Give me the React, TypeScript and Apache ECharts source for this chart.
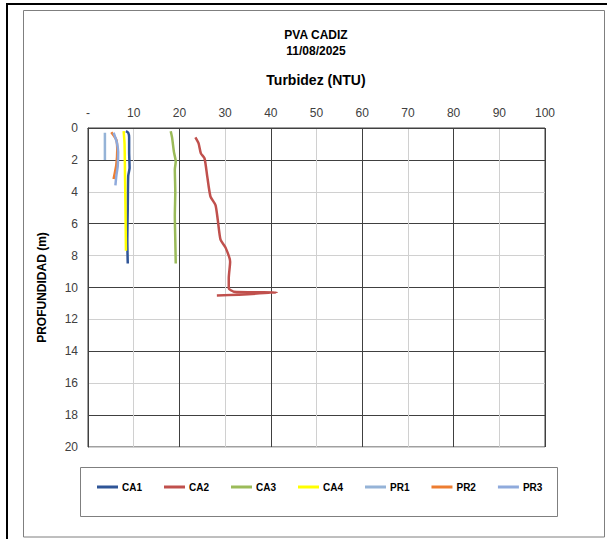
import React, { useEffect, useRef } from "react";
import * as echarts from "echarts";

const titleLines = ["PVA CADIZ", "11/08/2025"];
const chartTitle = "Turbidez (NTU)";
const yAxisName = "PROFUNDIDAD (m)";
const seriesNames = ["CA1", "CA2", "CA3", "CA4", "PR1", "PR2", "PR3"];
const seriesColors = ["#2f5597", "#c0504d", "#9bbb59", "#ffff00", "#95b3d7", "#ed7d31", "#8faadc"];

// [NTU, depth m]
const ca1: number[][] = [[8.3, 0.2], [8.8, 0.3], [9.0, 0.6], [9.0, 1.5], [9.1, 2.5], [8.8, 3.0], [8.7, 5.0], [8.6, 7.0], [8.7, 8.5]];
const ca2: number[][] = [
  [23.5, 0.58], [24.2, 0.96], [24.7, 1.59], [25.5, 1.9], [26.1, 3.05], [26.8, 4.3], [27.9, 4.83],
  [28.4, 5.77], [29.0, 7.0], [30.1, 7.5], [31.1, 8.38], [30.8, 9.42], [30.8, 10.05], [31.9, 10.26],
  [41.3, 10.32], [28.2, 10.5],
];
const ca3: number[][] = [[18.1, 0.2], [18.4, 0.6], [18.8, 1.5], [19.2, 2.1], [19.0, 2.6], [19.1, 4.0], [19.0, 5.5], [19.1, 7.0], [19.2, 8.5]];
const ca4: number[][] = [[7.8, 0.2], [8.0, 1.0], [8.1, 3.0], [8.2, 5.0], [8.3, 7.7]];
const pr1: number[][] = [[3.7, 0.3], [3.7, 2.0]];
const pr2: number[][] = [[5.1, 0.27], [6.2, 0.75], [6.4, 1.4], [6.2, 2.3], [5.6, 3.2]];
const pr3: number[][] = [[5.6, 0.3], [6.3, 0.9], [6.6, 1.5], [6.5, 2.4], [6.2, 3.0], [6.0, 3.6]];
const seriesData = [ca1, ca2, ca3, ca4, pr1, pr2, pr3];

const xMin = 0, xMax = 100, xStep = 10;
const yMin = 0, yMax = 20, yStep = 2;

const FONT = "'Liberation Sans', Arial, sans-serif";

export default function App() {
  const ref = useRef<HTMLDivElement>(null);
  useEffect(() => {
    if (!ref.current) return;
    const chart = echarts.init(ref.current, undefined, { renderer: "svg" });
    chart.setOption({
      animation: false,
      backgroundColor: "#ffffff",
      textStyle: { fontFamily: FONT },
      graphic: [
        { type: "rect", shape: { x: 7, y: 4, width: 700, height: 700 }, style: { fill: "none", stroke: "#000", lineWidth: 2 }, silent: true },
        { type: "rect", shape: { x: 23.5, y: 10.5, width: 581, height: 526.5 }, style: { fill: "none", stroke: "#7f7f7f", lineWidth: 1 }, silent: true },
        { type: "rect", shape: { x: 80.5, y: 467.5, width: 477, height: 49 }, style: { fill: "none", stroke: "#7f7f7f", lineWidth: 1 }, silent: true },
        { type: "text", x: 316, y: 35, style: { text: titleLines[0], font: `bold 12px ${FONT}`, fill: "#000", align: "center", verticalAlign: "middle" } },
        { type: "text", x: 316, y: 51, style: { text: titleLines[1], font: `bold 12px ${FONT}`, fill: "#000", align: "center", verticalAlign: "middle" } },
        { type: "text", x: 316, y: 80, style: { text: chartTitle, font: `bold 14px ${FONT}`, fill: "#000", align: "center", verticalAlign: "middle" } },
      ],
      legend: {
        left: 97,
        top: 482,
        padding: 0,
        icon: "rect",
        itemWidth: 21,
        itemHeight: 3,
        itemGap: 22,
        textStyle: { fontSize: 10, fontWeight: "bold", color: "#000", fontFamily: FONT, padding: [0, 0, 0, -1] },
        data: seriesNames,
      },
      grid: { left: 88, top: 128, right: 62, bottom: 92, show: true, borderColor: "#404040", borderWidth: 1, containLabel: false },
      xAxis: {
        type: "value",
        position: "top",
        min: xMin,
        max: xMax,
        interval: xStep,
        axisLine: { show: true, lineStyle: { color: "#404040", width: 1 } },
        axisTick: { show: false },
        axisLabel: { fontSize: 12, color: "#404040", margin: 9, formatter: (v: number) => (v === 0 ? "-" : String(v)) },
        splitLine: { show: true, lineStyle: { color: ["#404040", "#d0d0d0"], width: 1 } },
      },
      yAxis: {
        type: "value",
        inverse: true,
        min: yMin,
        max: yMax,
        interval: yStep,
        name: yAxisName,
        nameLocation: "middle",
        nameGap: 40,
        nameTextStyle: { fontSize: 12, fontWeight: "bold", color: "#000" },
        axisLine: { show: true, lineStyle: { color: "#404040", width: 1 } },
        axisTick: { show: false },
        axisLabel: { fontSize: 12, color: "#404040", margin: 10 },
        splitLine: { show: true, lineStyle: { color: ["#d0d0d0", "#404040"], width: 1 } },
      },
      series: seriesNames.map((name, i) => ({
        name,
        type: "line",
        data: seriesData[i],
        showSymbol: false,
        symbol: "none",
        smooth: 0.2,
        color: seriesColors[i],
        lineStyle: { width: 2.5, color: seriesColors[i] },
      })),
    });
    return () => chart.dispose();
  }, []);
  return <div ref={ref} style={{ position: "fixed", left: 0, top: 0, width: 607, height: 539 }} />;
}
